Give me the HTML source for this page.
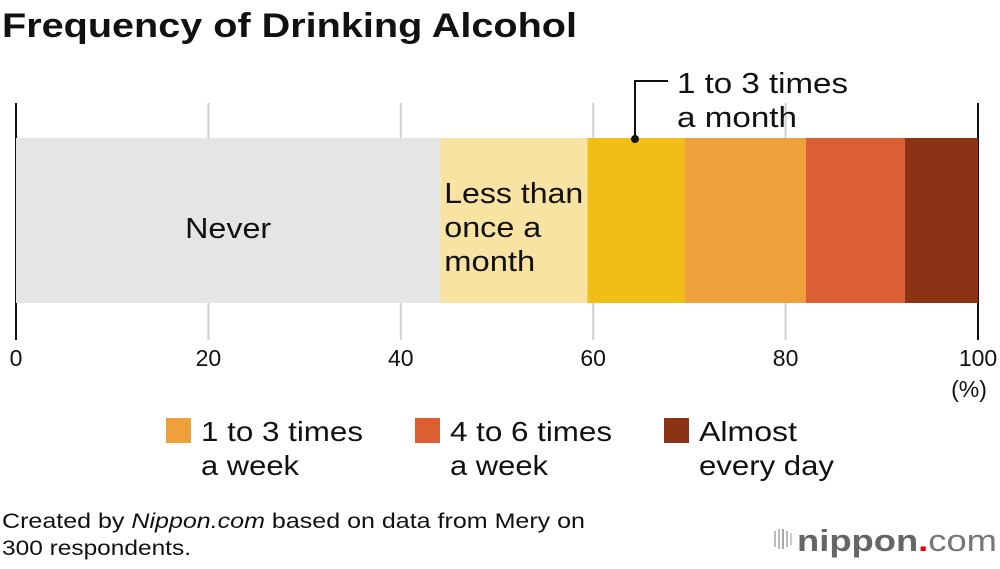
<!DOCTYPE html>
<html><head><meta charset="utf-8"><style>
body{margin:0;background:#fff;width:1000px;height:564px;overflow:hidden;font-family:"Liberation Sans",sans-serif}
svg text{font-family:"Liberation Sans",sans-serif}
</style></head><body>
<svg width="1000" height="564">
<text x="2" y="37" font-size="34" font-weight="bold" fill="#111" textLength="575" lengthAdjust="spacingAndGlyphs">Frequency of Drinking Alcohol</text>
<g id="grid"></g>
<g id="bars"></g>
<g id="labels"></g>
<g id="ticks"></g>
<line x1="635" y1="139" x2="635" y2="81" stroke="#111" stroke-width="2"/>
<line x1="634" y1="81" x2="668" y2="81" stroke="#111" stroke-width="2"/>
<circle cx="635" cy="139" r="4" fill="#111"/>
<text font-size="29" fill="#111" lengthAdjust="spacingAndGlyphs"><tspan x="677" y="93" textLength="171" lengthAdjust="spacingAndGlyphs">1 to 3 times</tspan><tspan x="677" y="127" textLength="120" lengthAdjust="spacingAndGlyphs">a month</tspan></text>
<text x="969" y="397" font-size="23" fill="#111" text-anchor="middle">(%)</text>
<g>
<rect x="166" y="418" width="25" height="25" fill="#f0a03a"/>
<text font-size="28" fill="#111"><tspan x="201" y="441" textLength="162" lengthAdjust="spacingAndGlyphs">1 to 3 times</tspan><tspan x="201" y="475" textLength="98" lengthAdjust="spacingAndGlyphs">a week</tspan></text>
<rect x="415" y="418" width="25" height="25" fill="#dc5e33"/>
<text font-size="28" fill="#111"><tspan x="450" y="441" textLength="162" lengthAdjust="spacingAndGlyphs">4 to 6 times</tspan><tspan x="450" y="475" textLength="98" lengthAdjust="spacingAndGlyphs">a week</tspan></text>
<rect x="664" y="418" width="25" height="25" fill="#8b3314"/>
<text font-size="28" fill="#111"><tspan x="699" y="441" textLength="98" lengthAdjust="spacingAndGlyphs">Almost</tspan><tspan x="699" y="475" textLength="135" lengthAdjust="spacingAndGlyphs">every day</tspan></text>
</g>
<text font-size="21" fill="#111"><tspan x="2" y="528" textLength="583" lengthAdjust="spacingAndGlyphs">Created by <tspan font-style="italic">Nippon.com</tspan> based on data from Mery on</tspan><tspan x="2" y="555" textLength="189" lengthAdjust="spacingAndGlyphs">300 respondents.</tspan></text>
<g>
<rect x="774" y="531" width="2" height="16" fill="#bbb"/><rect x="778" y="529" width="2" height="20" fill="#bbb"/><rect x="782" y="529" width="2" height="20" fill="#aaa"/><rect x="786" y="531" width="2" height="16" fill="#bbb"/><rect x="790" y="533" width="2" height="12" fill="#ccc"/>
<text x="797" y="551" font-size="31" font-weight="bold" fill="#666" textLength="200" lengthAdjust="spacingAndGlyphs">nippon<tspan fill="#e60012">.</tspan><tspan font-weight="normal" fill="#777">com</tspan></text>
</g>
</svg>
<script>
const categories=["Never","Less than once a month","1 to 3 times a month","1 to 3 times a week","4 to 6 times a week","Almost every day"];
const values=[44.1,15.3,10.1,12.6,10.3,7.6];
const colors=["#e5e5e5","#f8e3a2","#f0be16","#f0a03a","#dc5e33","#8b3314"];
const tickValues=[0,20,40,60,80,100];
const x0=16,x1=978,barTop=138,barBot=303;
const xs=v=>x0+(x1-x0)*v/100;
const NS="http://www.w3.org/2000/svg";
function mk(t,a,p){const e=document.createElementNS(NS,t);for(const k in a)e.setAttribute(k,a[k]);document.getElementById(p).appendChild(e);return e;}
tickValues.forEach(v=>{
 const edge=v===0||v===100;
 const l=mk('line',{x1:xs(v),x2:xs(v),y1:103,y2:340,stroke:edge?'#111':'#d0d0d0','stroke-width':2},'grid');
 
 
 const t=mk('text',{x:xs(v)-(v===100?0:0),y:366,'font-size':23,fill:'#111','text-anchor':'middle'},'ticks');
 t.textContent=v;
 
 
});
let cum=0;
values.forEach((v,i)=>{
 const r=mk('rect',{x:xs(cum),y:barTop,width:xs(cum+v)-xs(cum),height:barBot-barTop,fill:colors[i]},'bars');
 
 
 cum+=v;
});
const t1=mk('text',{x:(xs(0)+xs(values[0]))/2,y:238,'font-size':29,fill:'#111','text-anchor':'middle',textLength:86,lengthAdjust:'spacingAndGlyphs'},'labels');
t1.textContent=categories[0];


const t2=mk('text',{'font-size':29,fill:'#111'},'labels');


const lens=[139,97,91];
["Less than","once a","month"].forEach((s,i)=>{const ts=document.createElementNS(NS,'tspan');ts.setAttribute('x',xs(values[0])+4);ts.setAttribute('y',203+i*34);ts.setAttribute('textLength',lens[i]);ts.setAttribute('lengthAdjust','spacingAndGlyphs');ts.textContent=s;t2.appendChild(ts);});
</script>
</body></html>
